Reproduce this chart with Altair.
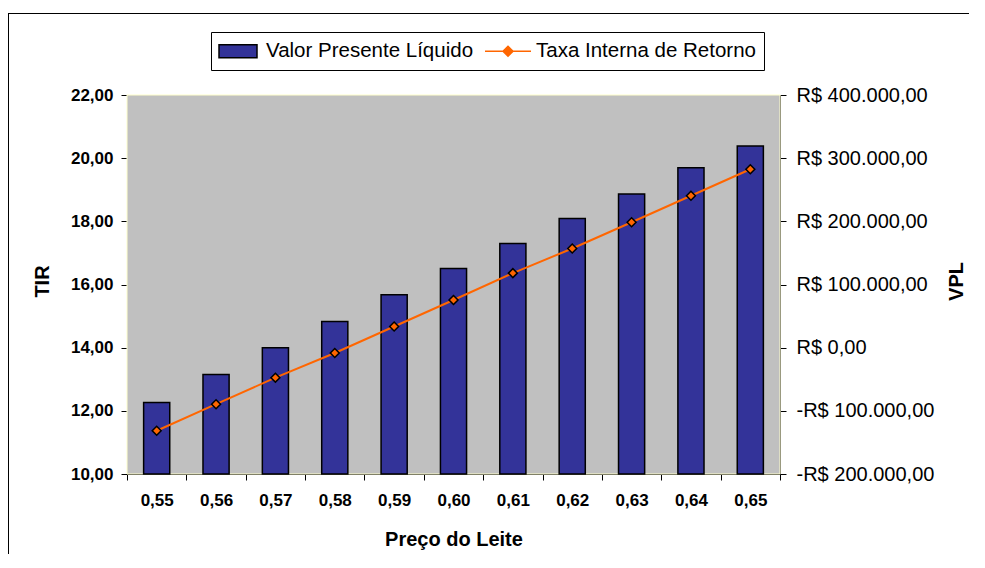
import altair as alt
import pandas as pd

# ---- data ----
precos = ["0,55", "0,56", "0,57", "0,58", "0,59", "0,60", "0,61", "0,62", "0,63", "0,64", "0,65"]
vpl = [-86700, -42400, -200, 41400, 83600, 125200, 164800, 204300, 243400, 285000, 319300]
tir = [11.37, 12.21, 13.05, 13.83, 14.67, 15.51, 16.36, 17.14, 17.97, 18.81, 19.65]
series = ["Valor Presente Líquido", "Taxa Interna de Retorno"]
series_colors = ["#333399", "#FF6600"]
tir_ticks = [10, 12, 14, 16, 18, 20, 22]
vpl_ticks = [-200000, -100000, 0, 100000, 200000, 300000, 400000]

df = pd.DataFrame({"preco": precos, "vpl": vpl, "tir": tir})
leg_df = pd.DataFrame({"serie": series})

FONT = "Liberation Sans"
W, H = 653, 379
PAD = {"left": 119, "top": 87, "right": 189, "bottom": 80}

x_enc = alt.X(
    "preco:N", sort=precos,
    scale=alt.Scale(paddingInner=0, paddingOuter=0),
    axis=alt.Axis(
        title="Preço do Leite", labelAngle=0, tickBand="extent",
        labelFontSize=17, labelFontWeight="bold", labelPadding=12,
        tickSize=6, tickColor="black", domainColor="black",
        titleFontSize=20, titleFontWeight="bold", titleY=71, titleBaseline="alphabetic",
        labelColor="black", titleColor="black",
    ),
)

one = pd.DataFrame({"k": [0]})

# outer chart frame, left and top edges (decoration, thin filled strips)
frame_left = alt.Chart(one).mark_rect(fill="black", strokeWidth=0).encode(
    x=alt.value(-119), x2=alt.value(-118), y=alt.value(-82), y2=alt.value(H + 90)
)
frame_top = alt.Chart(one).mark_rect(fill="black", strokeWidth=0).encode(
    x=alt.value(-119), x2=alt.value(W + 300), y=alt.value(-82), y2=alt.value(-81)
)

# grey plot-area background (decoration)
plot_bg = alt.Chart(one).mark_rect(
    fill="#C0C0C0", stroke="#FFFFCC", strokeWidth=1
).encode(
    x=alt.value(0), x2=alt.value(W), y=alt.value(0), y2=alt.value(H)
)

bars = alt.Chart(df).mark_bar(
    color="#333399", stroke="black", strokeWidth=1.5, width=alt.RelativeBandSize(0.44)
).encode(
    x=x_enc,
    y=alt.Y(
        "vpl:Q",
        scale=alt.Scale(domain=[-200000, 400000], nice=False, zero=False),
        axis=alt.Axis(
            orient="right", values=vpl_ticks, format="$,.2f", grid=False,
            title="VPL", titleAngle=270, titleX=176, titleY=186,
            titleAlign="center", titleBaseline="middle",
            titleFontSize=20, titleFontWeight="bold", titleColor="black",
            labelFontSize=20, labelColor="black", labelPadding=10,
            tickSize=6, tickColor="black", domainColor="#333333",
        ),
    ),
    y2=alt.datum(-200000),
)

line = alt.Chart(df).mark_line(
    color="#FF6600", strokeWidth=2,
    point=alt.OverlayMarkDef(shape="diamond", filled=True, fill="#FF6600",
                             stroke="black", strokeWidth=1.5, size=80),
).encode(
    x=x_enc,
    y=alt.Y(
        "tir:Q",
        scale=alt.Scale(domain=[10, 22], nice=False, zero=False),
        axis=alt.Axis(
            orient="left", values=tir_ticks, format=".2f", grid=False,
            title="TIR", titleAngle=270, titleX=-85, titleY=186,
            titleAlign="center", titleBaseline="middle",
            titleFontSize=20, titleFontWeight="bold", titleColor="black",
            labelFontSize=17, labelFontWeight="bold", labelColor="black", labelPadding=8,
            tickSize=6, tickColor="black", domainColor="black",
        ),
    ),
)

path_bar = "M-1.9,-0.65H1.9V0.65H-1.9Z"
path_line = "M-2.3,0H-0.5M-0.5,0L0,-0.5L0.5,0L0,0.5ZM0.5,0H2.3"

leg = alt.Legend(
    orient="none", legendX=84, legendY=-63, direction="horizontal",
    strokeColor="black", fillColor="white", padding=8,
    labelFontSize=20.5, labelColor="black", labelFont=FONT, labelLimit=600,
    symbolSize=400, symbolStrokeWidth=1.5, symbolOffset=8,
    labelOffset=17, columnPadding=8,
)

legend_layer = alt.Chart(leg_df).mark_point(filled=True, opacity=1).encode(
    color=alt.Color("serie:N", title=None, legend=leg,
                    scale=alt.Scale(domain=series, range=series_colors)),
    shape=alt.Shape("serie:N", title=None, legend=leg,
                    scale=alt.Scale(domain=series, range=[path_bar, path_line])),
    stroke=alt.Stroke("serie:N", title=None, legend=leg,
                      scale=alt.Scale(domain=series, range=["black", "#FF6600"])),
).transform_filter("false")

chart = alt.layer(frame_left, frame_top, plot_bg, bars, line, legend_layer).resolve_scale(
    y="independent"
).properties(
    width=W, height=H,
    autosize=alt.AutoSizeParams(type="none"),
    padding=PAD,
).configure(
    font=FONT,
    locale={"number": {"decimal": ",", "thousands": ".", "grouping": [3],
                       "currency": ["R$ ", ""], "minus": "-"}},
).configure_view(
    strokeWidth=0
)

chart.save("out.html", embed_options={"renderer": "svg", "actions": False})
